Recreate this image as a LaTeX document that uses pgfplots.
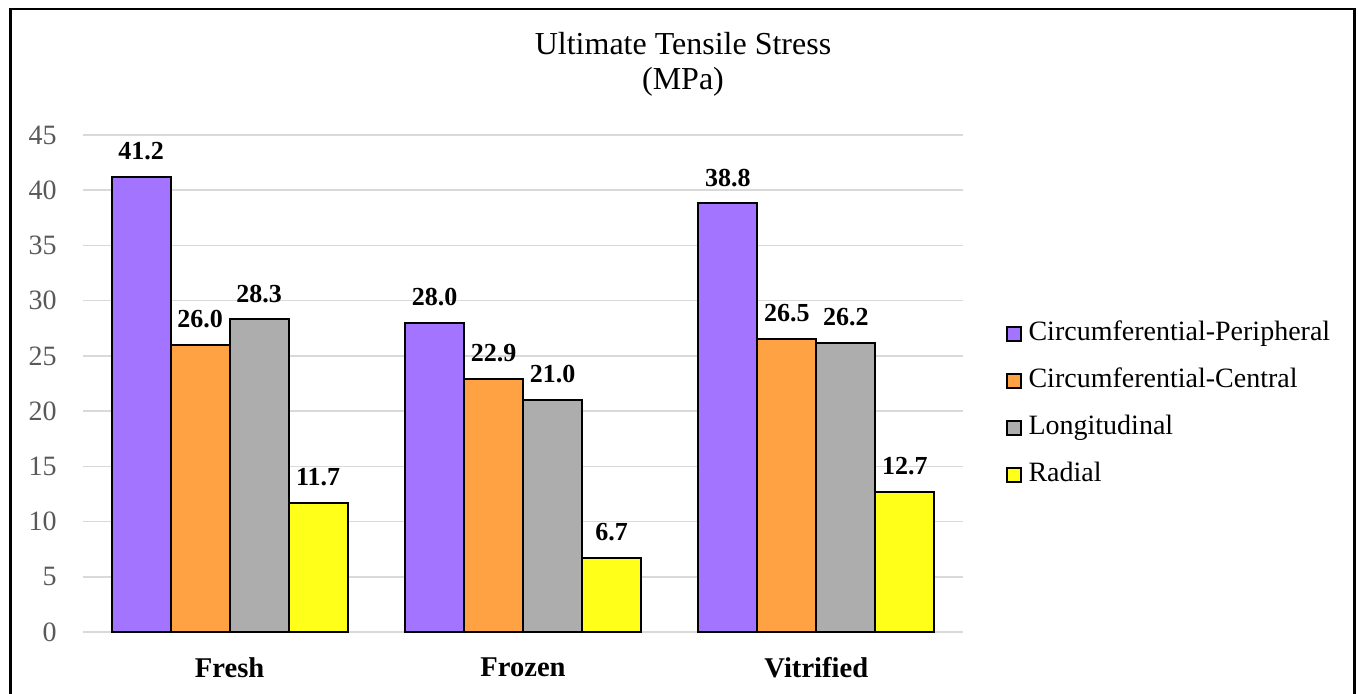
\documentclass[border=0pt]{standalone}
\usepackage{pgfplots}
\pgfplotsset{compat=1.18}
\usepackage{fontspec}
\setmainfont{Liberation Serif}

\definecolor{cPer}{HTML}{A274FF}
\definecolor{cCen}{HTML}{FFA244}
\definecolor{cLon}{HTML}{ADADAD}
\definecolor{cRad}{HTML}{FFFF1A}
\definecolor{gridc}{HTML}{D9D9D9}
\definecolor{tickc}{HTML}{595959}

\pgfplotsset{
  sqbar/.style={fill=#1, draw=black, line width=1pt,
    legend image code/.code={\draw[##1, line width=0.75pt, draw=black] (0pt,-3.5pt) rectangle (7pt,3.5pt);}},
}

\begin{document}
\begin{tikzpicture}
\useasboundingbox (0,0) rectangle (679pt,347pt);
% frame
\draw[line width=1.25pt] (5.35pt,-5pt) -- (5.35pt,342.4pt) -- (677.3pt,342.4pt) -- (677.3pt,-5pt);
% title
\node[anchor=base, inner sep=0pt, font=\fontsize{16}{19}\selectfont] at (341.5pt,319.5pt) {Ultimate Tensile Stress};
\node[anchor=base, inner sep=0pt, font=\fontsize{16}{19}\selectfont] at (341.5pt,302pt) {(MPa)};

\begin{axis}[
  at={(41.5pt,31pt)}, anchor=south west,
  scale only axis, width=440pt, height=248.5pt,
  ybar=0pt, bar width=29.5pt,
  xmin=-0.5, xmax=2.5, ymin=0, ymax=45,
  xtick={0,1,2}, xticklabels={Fresh,Frozen,Vitrified},
  ytick={0,5,...,45},
  ymajorgrids, grid style={gridc, line width=0.75pt},
  axis line style={draw=none},
  major tick length=0pt,
  /pgf/number format/assume math mode=true,
  xticklabel style={font=\fontsize{14.3}{17}\selectfont\bfseries, text=black, anchor=north, inner sep=0pt, yshift=-12.5pt},
  yticklabel style={font=\fontsize{14}{17}\selectfont, text=tickc, anchor=east, inner sep=0pt, xshift=-13pt},
  nodes near coords={\pgfmathprintnumber[fixed,fixed zerofill,precision=1]{\pgfplotspointmeta}},
  every node near coord/.append style={font=\fontsize{13}{15}\selectfont\bfseries, text=black, anchor=south, inner sep=0pt, yshift=8pt},
  legend style={at={(1.0489,0.6258)}, anchor=north west, draw=none, fill=none,
    inner sep=0pt, outer sep=0pt, row sep=10.5pt,
    font=\fontsize{14}{17}\selectfont,
    nodes={inner xsep=3.5pt, inner ysep=0pt, text height=10pt, text depth=3pt},
    cells={anchor=west}},
  clip=false,
]
\addplot[sqbar=cPer] coordinates {(0,41.2) (1,28.0) (2,38.8)};
\addplot[sqbar=cCen] coordinates {(0,26.0) (1,22.9) (2,26.5)};
\addplot[sqbar=cLon] coordinates {(0,28.3) (1,21.0) (2,26.2)};
\addplot[sqbar=cRad] coordinates {(0,11.7) (1,6.7) (2,12.7)};
\legend{Circumferential-Peripheral, Circumferential-Central, Longitudinal, Radial}
\end{axis}
\end{tikzpicture}
\end{document}
